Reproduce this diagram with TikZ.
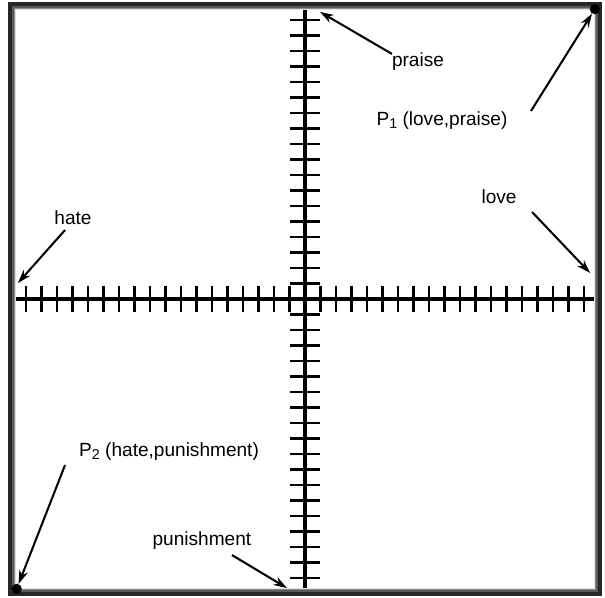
\documentclass[tikz,border=0pt]{standalone}
\usepackage{fontspec}
\setmainfont{Liberation Sans}
\usetikzlibrary{arrows.meta}
\newcommand{\idx}[1]{\raisebox{-0.25ex}{\fontsize{10.5}{12}\selectfont #1}}

\begin{document}
\begin{tikzpicture}[x=0.4cm, y=0.4cm,
  axisline/.style={line width=2.9pt, black},
  tickmark/.style={line width=1.5pt, black},
  lbl/.style={font=\fontsize{14}{16}\selectfont, inner sep=0pt},
  pointer/.style={-{Stealth[length=10pt, width=6.5pt]}, line width=1.5pt},
  dot/.style={circle, fill=black, inner sep=0pt, minimum size=7.5pt},
]
\useasboundingbox (-19.677,-19.226) rectangle (19.355,19.29);

%% ── ticks ─────────────────────────────────────────────
\foreach \k in {1,...,19} {
  \draw[tickmark] (\k,-0.84) -- (\k,0.84);
  \draw[tickmark] (-\k,-0.84) -- (-\k,0.84);
  \draw[tickmark] (-0.97,\k) -- (0.97,\k);
  \draw[tickmark] (-0.97,-\k) -- (0.97,-\k);
}

%% ── axes ──────────────────────────────────────────────
\draw[axisline] (-19,0) -- (19,0);
\draw[axisline] (0,-19) -- (0,19);

%% ── frame (shaded edge) ───────────────────────────────
\foreach \i/\c in {0.3/12, 0.25/28, 0.2/45, 0.15/65}
  \draw[line width=1.4pt, black!\c] (-19+\i,-19+\i) rectangle (19-\i,19-\i);
\draw[line width=3pt, black!85] (-19.02,-19.02) rectangle (19.02,19.02);

%% ── points ────────────────────────────────────────────
\node[dot] (p1dot) at (18.7,18.7) {};
\node[dot] (p2dot) at (-18.6,-18.7) {};

%% ── labels ────────────────────────────────────────────
\node[lbl] (praise) at (7.29,15.29)  {praise};
\node[lbl] (p1)     at (8.84,11.48)  {P\idx{1} (love,praise)};
\node[lbl] (love)   at (12.52,6.58)  {love};
\node[lbl] (hate)   at (-14.97,5.23) {hate};
\node[lbl] (p2)     at (-8.77,-9.87) {P\idx{2} (hate,punishment)};
\node[lbl] (punish) at (-6.65,-15.61) {punishment};

%% ── pointers ──────────────────────────────────────────
\coordinate (praiseTail) at (5.61,15.81);
\coordinate (praiseTip)  at (0.97,18.52);
\coordinate (p1Tail)     at (14.58,12.13);
\coordinate (loveTail)   at (14.65,5.61);
\coordinate (loveTip)    at (18.39,1.68);
\coordinate (hateTail)   at (-15.48,4.45);
\coordinate (hateTip)    at (-18.52,1.03);
\coordinate (p2Tail)     at (-15.48,-10.71);
\coordinate (punishTail) at (-4.71,-16.52);
\coordinate (punishTip)  at (-1.16,-18.65);

\draw[pointer] (praiseTail) -- (praiseTip);
\draw[pointer] (p1Tail) -- (p1dot);
\draw[pointer] (loveTail) -- (loveTip);
\draw[pointer] (hateTail) -- (hateTip);
\draw[pointer] (p2Tail) -- (p2dot);
\draw[pointer] (punishTail) -- (punishTip);
\end{tikzpicture}
\end{document}
